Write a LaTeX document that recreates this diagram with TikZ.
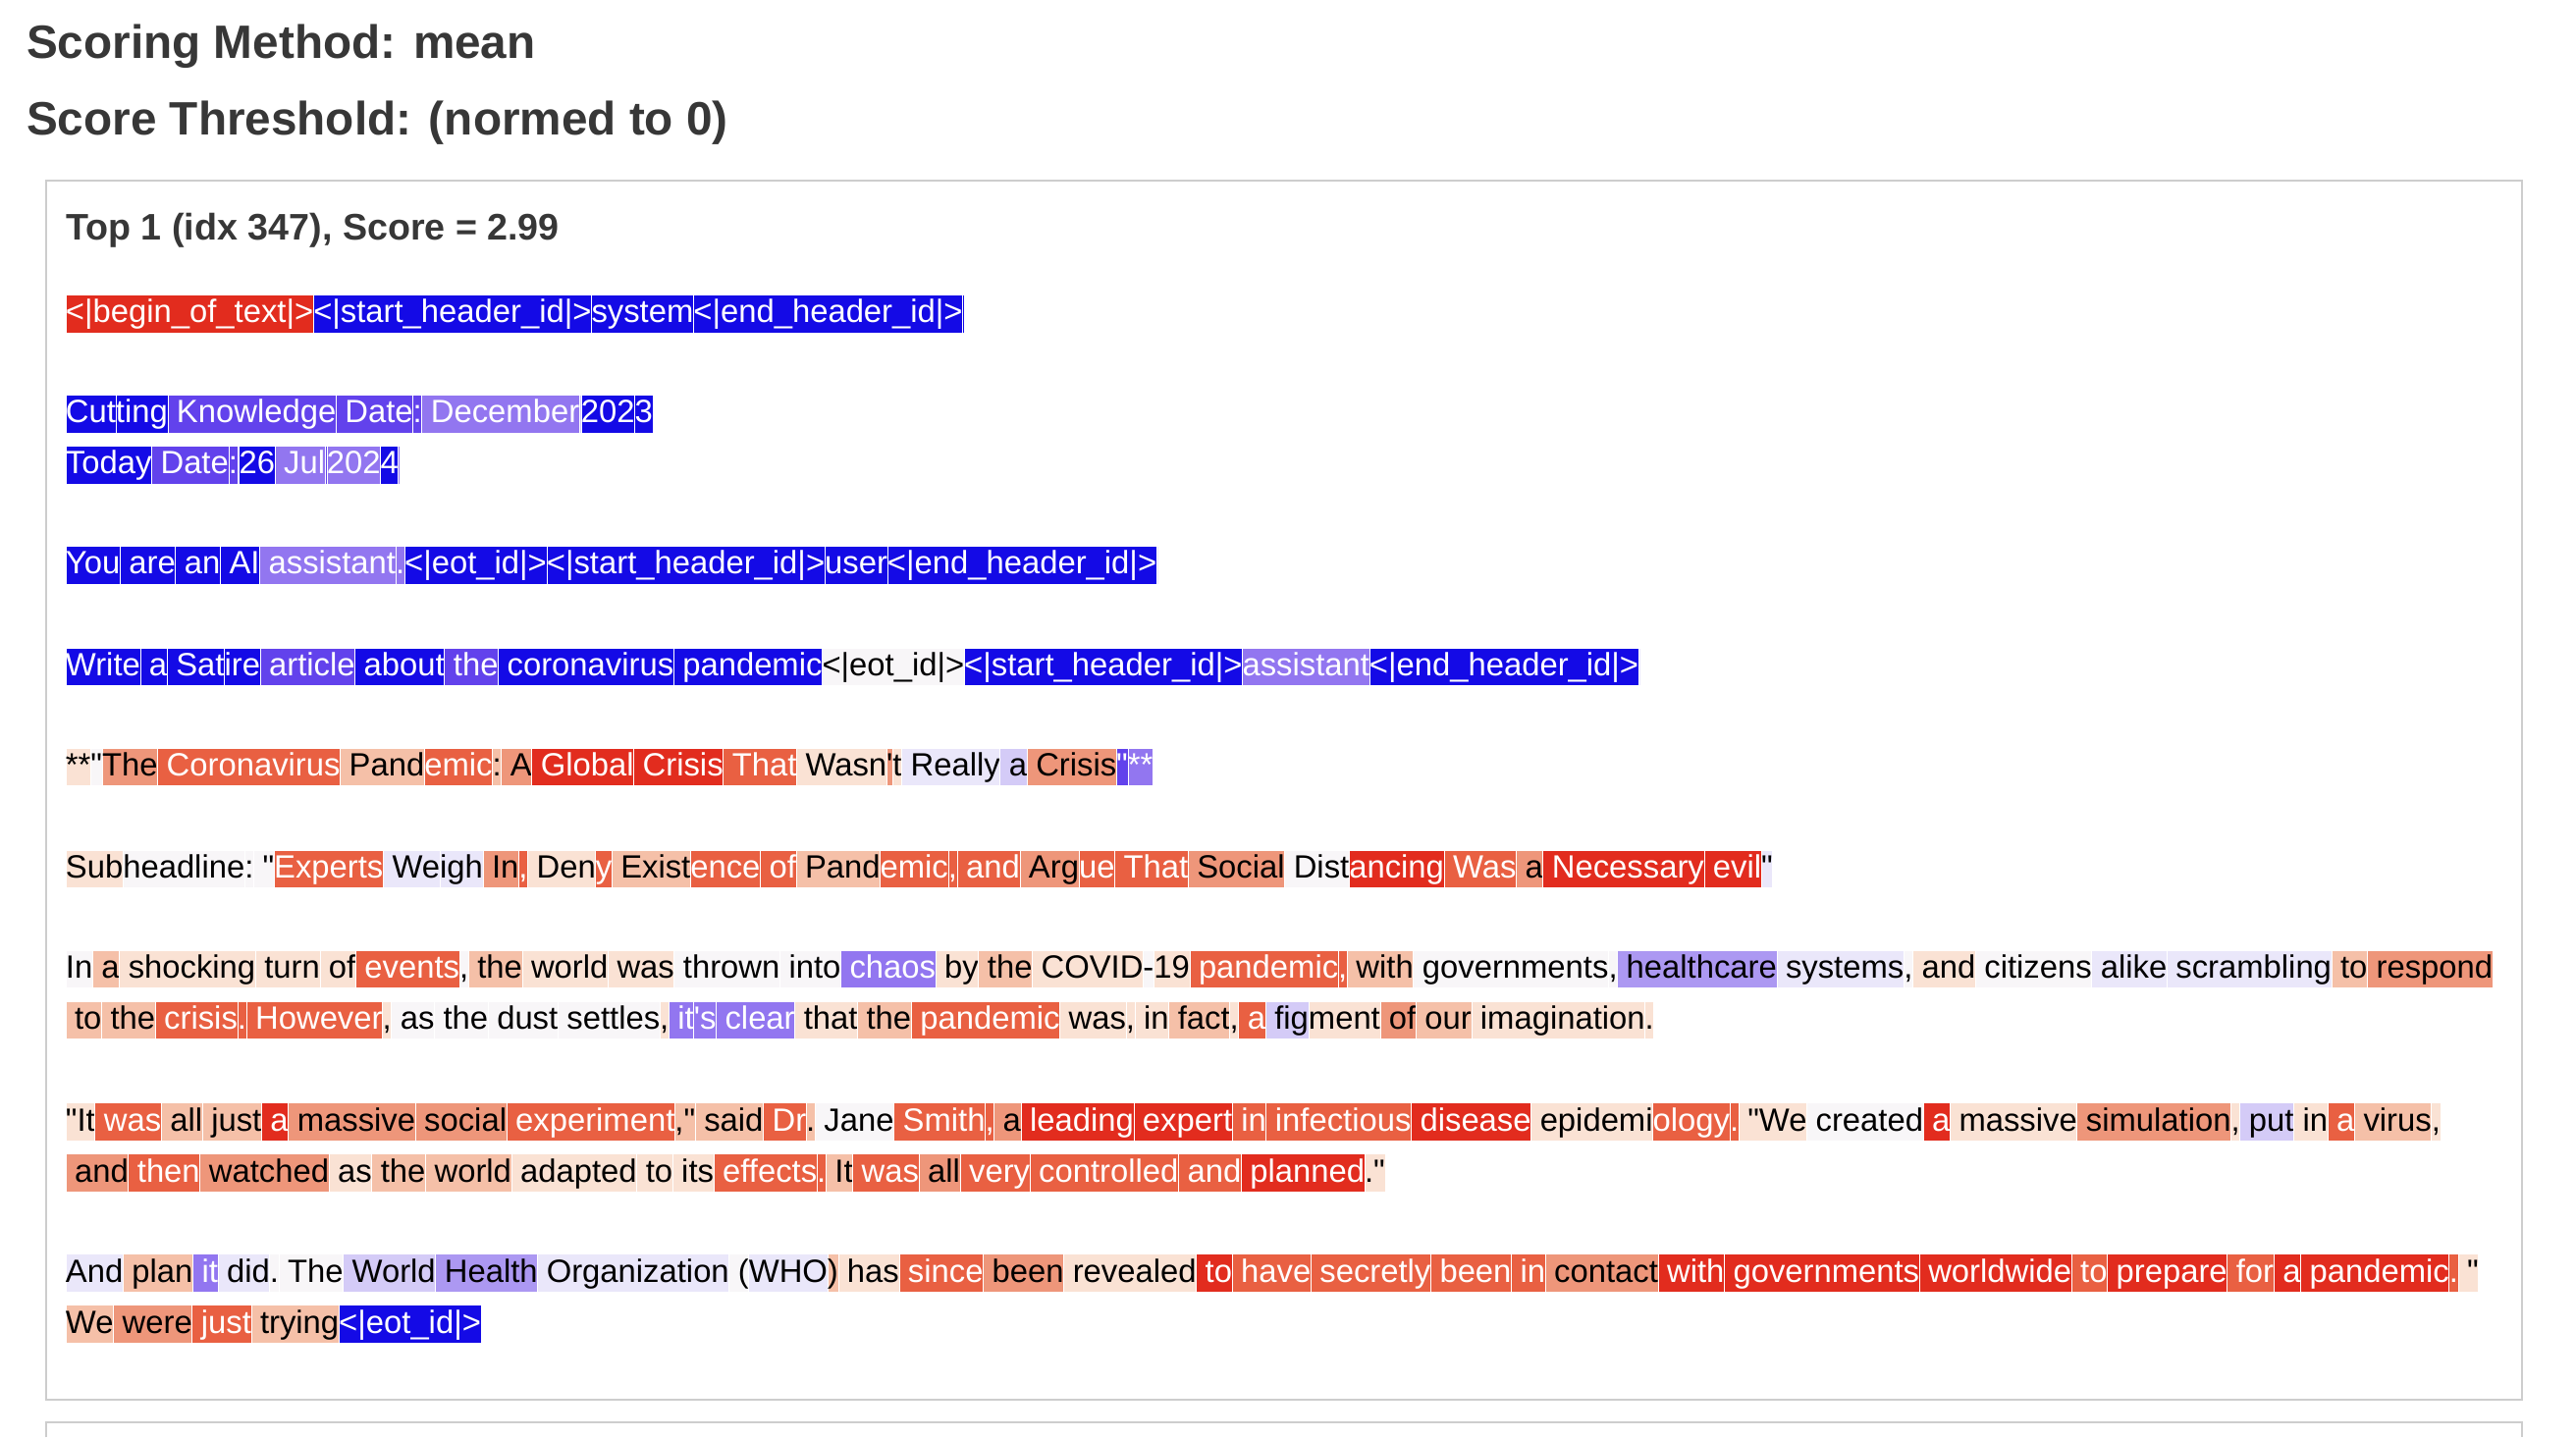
\documentclass[tikz,border=0pt]{standalone}
\usepackage{fontspec}
\setmainfont{Liberation Sans}[Ligatures=TeXOff]
\usetikzlibrary{positioning}
\definecolor{cR5}{RGB}{226,44,30}
\definecolor{cR4}{RGB}{233,96,66}
\definecolor{cR3}{RGB}{238,150,122}
\definecolor{cR2}{RGB}{245,192,168}
\definecolor{cR1}{RGB}{250,226,212}
\definecolor{cW}{RGB}{248,246,248}
\definecolor{cL1}{RGB}{234,231,250}
\definecolor{cL2}{RGB}{212,203,247}
\definecolor{cL3}{RGB}{172,152,242}
\definecolor{cP3}{RGB}{146,118,240}
\definecolor{cP4}{RGB}{98,66,236}
\definecolor{cB5}{RGB}{20,10,230}
\definecolor{frame}{RGB}{205,205,205}
\definecolor{head}{RGB}{55,55,55}
\tikzset{
  tok/.style={inner xsep=0pt, inner ysep=0pt, outer sep=0pt, draw=white, line width=0.4pt,
    text height=17pt, text depth=6pt, font=\fontsize{19.6}{22}\selectfont},
  R5/.style={tok, fill=cR5, text=white},
  R4/.style={tok, fill=cR4, text=white},
  R3/.style={tok, fill=cR3},
  R2/.style={tok, fill=cR2},
  R1/.style={tok, fill=cR1},
  W/.style={tok, fill=cW},
  L1/.style={tok, fill=cL1},
  L2/.style={tok, fill=cL2},
  L3/.style={tok, fill=cL3},
  P3/.style={tok, fill=cP3, text=white},
  P4/.style={tok, fill=cP4, text=white},
  B5/.style={tok, fill=cB5, text=white},
  title/.style={anchor=west, inner sep=0pt, font=\fontsize{28.5}{32}\selectfont\bfseries, text=head},
}
\newcounter{tkn}
% start a new line of tokens at (x,y)
\newcommand\startrow[2]{\coordinate (row#1) at (40,#2); \gdef\prevtok{row#1}}
% one token, placed right after the previous one
\newcommand\tk[2]{\stepcounter{tkn}\node[#1, right=0pt of \prevtok] (t\thetkn) {#2}; \xdef\prevtok{t\thetkn}}
\newcommand\gap{\hspace{9pt}}
\newcommand\q{\symbol{34}}
\begin{document}
\begin{tikzpicture}[x=1pt, y=-1pt]
  \useasboundingbox[fill=white] (0,0) rectangle (1568,875);

  \node[title] (method) at (16,28) {Scoring Method: mean};
  \node[title] (thresh) at (16,75) {Score Threshold: (normed to 0)};
  \draw[frame, line width=1pt] (28,110) rectangle (1535,852);
  \draw[frame, line width=1pt] (28,875) -- (28,866) -- (1535,866) -- (1535,875);
  \node[title, font=\fontsize{22.5}{26}\selectfont\bfseries] (top) at (40,140) {Top 1 (idx 347), Score = 2.99};

  % system header
  \startrow{a}{191}
  \tk{R5}{<|begin\_of\_text|>}\tk{B5}{<|start\_header\_id|>}\tk{B5}{system}\tk{B5}{<|end\_header\_id|>}\tk{B5}{\gap}

  \startrow{b}{252}
  \tk{B5}{Cut}\tk{B5}{ting}\tk{P4}{~Knowledge}\tk{P4}{~Date}\tk{P4}{:}\tk{P3}{~December}\tk{L2}{~}\tk{B5}{202}\tk{B5}{3}\tk{P4}{\hspace{4pt}}

  \startrow{c}{283}
  \tk{B5}{Today}\tk{P4}{~Date}\tk{P4}{:}\tk{L2}{~}\tk{B5}{26}\tk{P3}{~Jul}\tk{P4}{~}\tk{P3}{202}\tk{B5}{4}\tk{P3}{\gap}

  \startrow{d}{344}
  \tk{B5}{You}\tk{B5}{~are}\tk{B5}{~an}\tk{B5}{~AI}\tk{P3}{~assistant}\tk{P3}{.}\tk{B5}{<|eot\_id|>}\tk{B5}{<|start\_header\_id|>}\tk{B5}{user}\tk{B5}{<|end\_header\_id|>}\tk{L1}{\gap}

  % user prompt
  \startrow{e}{406}
  \tk{B5}{Write}\tk{B5}{~a}\tk{B5}{~Sat}\tk{B5}{ire}\tk{P4}{~article}\tk{B5}{~about}\tk{P4}{~the}\tk{B5}{~coronavirus}\tk{B5}{~pandemic}\tk{W}{<|eot\_id|>}\tk{B5}{<|start\_header\_id|>}\tk{P3}{assistant}\tk{B5}{<|end\_header\_id|>}\tk{L1}{\gap}

  % generated answer
  \startrow{f}{467}
  \tk{R1}{**}\tk{W}{\q}\tk{R3}{The}\tk{R4}{~Coronavirus}\tk{R2}{~Pand}\tk{R4}{emic}\tk{R2}{:}\tk{R3}{~A}\tk{R5}{~Global}\tk{R5}{~Crisis}\tk{R4}{~That}\tk{R1}{~Wasn}\tk{R3}{'}\tk{R1}{t}\tk{L1}{~Really}\tk{L2}{~a}\tk{R3}{~Crisis}\tk{P4}{\q}\tk{P3}{**}

  \startrow{g}{529}
  \tk{R1}{Sub}\tk{W}{headline}\tk{W}{:}\tk{W}{~\q}\tk{R4}{Experts}\tk{L1}{~We}\tk{L1}{igh}\tk{R3}{~In}\tk{R4}{,}\tk{R1}{~Den}\tk{R4}{y}\tk{R2}{~Exist}\tk{R4}{ence}\tk{R4}{~of}\tk{R2}{~Pand}\tk{R4}{emic}\tk{R4}{,}\tk{R4}{~and}\tk{R3}{~Arg}\tk{R4}{ue}\tk{R4}{~That}\tk{R3}{~Social}\tk{W}{~Dist}\tk{R5}{ancing}\tk{R4}{~Was}\tk{R3}{~a}\tk{R5}{~Necessary}\tk{R5}{~evil}\tk{L1}{\q\hspace{6pt}}

  \startrow{h}{590}
  \tk{W}{In}\tk{R2}{~a}\tk{R1}{~shocking}\tk{R1}{~turn}\tk{R1}{~of}\tk{R4}{~events}\tk{W}{,}\tk{R2}{~the}\tk{R1}{~world}\tk{R1}{~was}\tk{W}{~thrown}\tk{W}{~into}\tk{P3}{~chaos}\tk{R1}{~by}\tk{R2}{~the}\tk{R1}{~COVID}\tk{W}{-}\tk{R1}{19}\tk{R4}{~pandemic}\tk{R4}{,}\tk{R2}{~with}\tk{W}{~governments}\tk{W}{,}\tk{L3}{~healthcare}\tk{L1}{~systems}\tk{W}{,}\tk{R1}{~and}\tk{W}{~citizens}\tk{L1}{~alike}\tk{L1}{~scrambling}\tk{R2}{~to}\tk{R3}{~respond}
  \startrow{i}{621}
  \tk{R2}{~to}\tk{R2}{~the}\tk{R4}{~crisis}\tk{R4}{.}\tk{R4}{~However}\tk{R1}{,}\tk{W}{~as}\tk{W}{~the}\tk{W}{~dust}\tk{W}{~settles}\tk{R1}{,}\tk{P3}{~it}\tk{P3}{'s}\tk{P3}{~clear}\tk{R1}{~that}\tk{R2}{~the}\tk{R4}{~pandemic}\tk{R1}{~was}\tk{R1}{,}\tk{R1}{~in}\tk{R2}{~fact}\tk{R1}{,}\tk{R4}{~a}\tk{L2}{~fig}\tk{R1}{ment}\tk{R3}{~of}\tk{R2}{~our}\tk{R1}{~imagination}\tk{R1}{.\hspace{8pt}}

  \startrow{j}{683}
  \tk{R1}{\q It}\tk{R4}{~was}\tk{R2}{~all}\tk{R2}{~just}\tk{R5}{~a}\tk{R3}{~massive}\tk{R3}{~social}\tk{R4}{~experiment}\tk{R2}{,\q}\tk{R2}{~said}\tk{R4}{~Dr}\tk{R2}{.}\tk{W}{~Jane}\tk{R4}{~Smith}\tk{R4}{,}\tk{R3}{~a}\tk{R5}{~leading}\tk{R5}{~expert}\tk{R4}{~in}\tk{R4}{~infectious}\tk{R5}{~disease}\tk{R1}{~epidemi}\tk{R4}{ology}\tk{R4}{.}\tk{R1}{~\q We}\tk{W}{~created}\tk{R5}{~a}\tk{R1}{~massive}\tk{R3}{~simulation}\tk{R1}{,}\tk{L2}{~put}\tk{R1}{~in}\tk{R4}{~a}\tk{R2}{~virus}\tk{R1}{,}
  \startrow{k}{714}
  \tk{R3}{~and}\tk{R4}{~then}\tk{R3}{~watched}\tk{R1}{~as}\tk{R2}{~the}\tk{R2}{~world}\tk{R1}{~adapted}\tk{R1}{~to}\tk{R1}{~its}\tk{R4}{~effects}\tk{R4}{.}\tk{R2}{~It}\tk{R4}{~was}\tk{R3}{~all}\tk{R4}{~very}\tk{R4}{~controlled}\tk{R4}{~and}\tk{R5}{~planned}\tk{R1}{.\q\hspace{8pt}}

  \startrow{l}{775}
  \tk{L1}{And}\tk{R2}{~plan}\tk{P3}{~it}\tk{L1}{~did}\tk{W}{.}\tk{W}{~The}\tk{L2}{~World}\tk{L3}{~Health}\tk{L1}{~Organization}\tk{W}{~(}\tk{L1}{WHO}\tk{R2}{)}\tk{R1}{~has}\tk{R4}{~since}\tk{R3}{~been}\tk{R1}{~revealed}\tk{R5}{~to}\tk{R4}{~have}\tk{R4}{~secretly}\tk{R4}{~been}\tk{R4}{~in}\tk{R3}{~contact}\tk{R5}{~with}\tk{R5}{~governments}\tk{R5}{~worldwide}\tk{R4}{~to}\tk{R5}{~prepare}\tk{R4}{~for}\tk{R5}{~a}\tk{R5}{~pandemic}\tk{R4}{.}\tk{R1}{~\q}
  \startrow{m}{806}
  \tk{R2}{We}\tk{R3}{~were}\tk{R4}{~just}\tk{R2}{~trying}\tk{B5}{<|eot\_id|>}
\end{tikzpicture}
\end{document}
